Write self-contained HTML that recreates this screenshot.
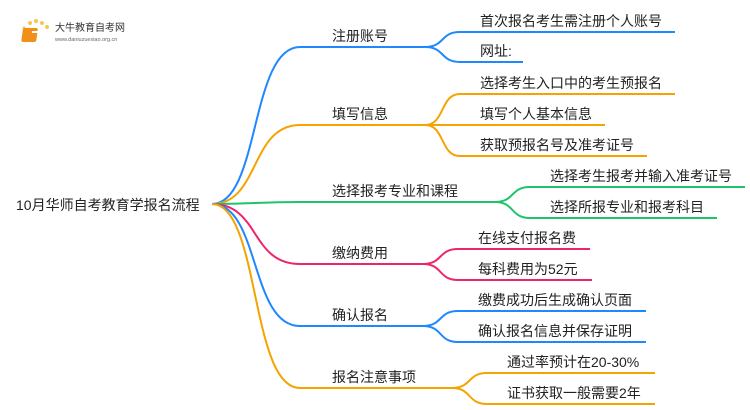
<!DOCTYPE html>
<html><head><meta charset="utf-8"><style>
html,body{margin:0;padding:0;background:#fff;width:750px;height:410px;overflow:hidden}
svg text{font-family:"Liberation Sans","Noto Sans CJK SC",sans-serif;fill:#222}
</style></head><body>
<svg width="750" height="410" viewBox="0 0 750 410" xmlns="http://www.w3.org/2000/svg">
<g fill="none" stroke-width="2">
<path d="M212 204 C260 204,250 47,300 47 L425 47" stroke="#1e88ff"/>
<path d="M425 47 C445 47,440 32,460 32 L675 32" stroke="#1e88ff"/>
<path d="M425 47 C445 47,440 62,460 62 L523 62" stroke="#1e88ff"/>
<path d="M212 204 C260 204,250 125,300 125 L425 125" stroke="#f5a300"/>
<path d="M425 125 C445 125,440 94,460 94 L675 94" stroke="#f5a300"/>
<path d="M425 125 L605 125" stroke="#f5a300"/>
<path d="M425 125 C445 125,440 156,460 156 L647 156" stroke="#f5a300"/>
<path d="M212 204 C250 204,260 202,300 202 L495 202" stroke="#1fc46a"/>
<path d="M495 202 C515 202,510 187,530 187 L745 187" stroke="#1fc46a"/>
<path d="M495 202 C515 202,510 218,530 218 L717 218" stroke="#1fc46a"/>
<path d="M212 204 C260 204,250 264,300 264 L423 264" stroke="#f0246e"/>
<path d="M423 264 C443 264,438 249,458 249 L590 249" stroke="#f0246e"/>
<path d="M423 264 C443 264,438 280,458 280 L592 280" stroke="#f0246e"/>
<path d="M212 204 C260 204,250 326,300 326 L423 326" stroke="#1e88ff"/>
<path d="M423 326 C443 326,438 311,458 311 L646 311" stroke="#1e88ff"/>
<path d="M423 326 C443 326,438 342,458 342 L646 342" stroke="#1e88ff"/>
<path d="M212 204 C260 204,250 388,300 388 L452 388" stroke="#f5a300"/>
<path d="M452 388 C472 388,467 373,487 373 L655 373" stroke="#f5a300"/>
<path d="M452 388 C472 388,467 404,487 404 L655 404" stroke="#f5a300"/>
</g>
<g font-size="14">
<text x="16" y="210">10月华师自考教育学报名流程</text>
<text x="332" y="41">注册账号</text>
<text x="332" y="119">填写信息</text>
<text x="332" y="196">选择报考专业和课程</text>
<text x="332" y="258">缴纳费用</text>
<text x="332" y="320">确认报名</text>
<text x="332" y="382">报名注意事项</text>
<text x="480" y="26">首次报名考生需注册个人账号</text>
<text x="480" y="56">网址:</text>
<text x="480" y="88">选择考生入口中的考生预报名</text>
<text x="480" y="119">填写个人基本信息</text>
<text x="480" y="150">获取预报名号及准考证号</text>
<text x="550" y="181">选择考生报考并输入准考证号</text>
<text x="550" y="212">选择所报专业和报考科目</text>
<text x="478" y="243">在线支付报名费</text>
<text x="478" y="274">每科费用为52元</text>
<text x="478" y="305">缴费成功后生成确认页面</text>
<text x="478" y="336">确认报名信息并保存证明</text>
<text x="507" y="367">通过率预计在20-30%</text>
<text x="507" y="398">证书获取一般需要2年</text>
</g>
<g>
<circle cx="30" cy="23" r="2" fill="#f8c64a"/><circle cx="36" cy="21" r="2" fill="#f8c64a"/><circle cx="42" cy="23" r="2" fill="#f8c64a"/><circle cx="47" cy="27" r="2" fill="#f8c64a"/><circle cx="24" cy="28" r="1.5" fill="#f8c64a"/>
<rect x="27" y="28" width="15" height="14" rx="2" fill="#f0901a" transform="skewX(-8)"/>
<rect x="32" y="31" width="8" height="2" fill="#fff"/>
<text x="55" y="31" font-size="10" style="fill:#333">大牛教育自考网</text>
<text x="55" y="41" font-size="5.5" style="fill:#666">www.daniuzuexiao.org.cn</text>
</g>
</svg>
</body></html>
